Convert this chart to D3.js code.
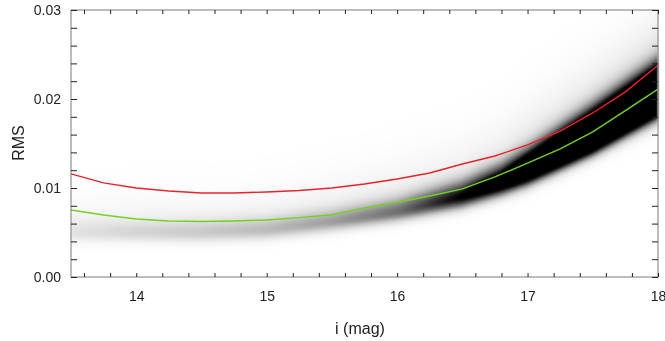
<!DOCTYPE html>
<html>
<head>
<meta charset="utf-8">
<script src="https://cdn.jsdelivr.net/npm/d3@7"></script>
<style>
  body { margin: 0; background: #fff; }
  #wrap { position: relative; width: 665px; height: 341px; }
  #wrap canvas { position: absolute; filter: blur(1px); }
  #wrap svg { position: absolute; left: 0; top: 0; }
</style>
</head>
<body>
<div id="wrap"></div>
<script>
// curve nodes (i mag vs RMS)
const mags = [13.5, 13.75, 14.0, 14.25, 14.5, 14.75, 15.0, 15.25, 15.5, 15.75,
              16.0, 16.25, 16.5, 16.75, 17.0, 17.25, 17.5, 17.75, 18.0];
const redRms = [0.01158, 0.01057, 0.0100, 0.00967, 0.00944, 0.00944, 0.00955, 0.00972, 0.0100, 0.01045,
                0.01101, 0.01169, 0.0127, 0.0136, 0.01484, 0.0164, 0.01843, 0.0208, 0.0238];
const greenRms = [0.00753, 0.00697, 0.00652, 0.00629, 0.00624, 0.00629, 0.00641, 0.00667, 0.00700, 0.00776,
                  0.0084, 0.0091, 0.0099, 0.01124, 0.0128, 0.0144, 0.0163, 0.0187, 0.0211];

// density ridge
const densMag  = [13.5, 14.0, 14.5, 15.0, 15.5, 16.0, 16.5, 16.8, 17.0, 17.5, 18.0];
const densMode = [0.0050, 0.0050, 0.0050, 0.0053, 0.0062, 0.0073, 0.0090, 0.0106, 0.0120, 0.0158, 0.0205];
const densLow  = [0.0008, 0.0008, 0.0008, 0.0008, 0.0008, 0.0008, 0.0009, 0.0010, 0.0011, 0.0012, 0.0015];
const densHigh = [0.0011, 0.0011, 0.0011, 0.0011, 0.0011, 0.0012, 0.0013, 0.0014, 0.0015, 0.0019, 0.0020];
const densPeak = [0.12, 0.18, 0.22, 0.27, 0.36, 0.5, 0.85, 1.15, 1.6, 2.6, 3.2];
const haloPeak = [0.08, 0.09, 0.10, 0.11, 0.12, 0.14, 0.17, 0.2, 0.23, 0.28, 0.33];
const haloWidth = [0.003, 0.003, 0.003, 0.0032, 0.0035, 0.0038, 0.004, 0.0042, 0.0045, 0.005, 0.0052];

const xTicks = d3.range(13.6, 18.001, 0.2).map(v => +v.toFixed(1));
const yTicks = d3.range(0, 0.03001, 0.002).map(v => +v.toFixed(3));
const xLabels = [14, 15, 16, 17, 18];
const yLabels = [0, 0.01, 0.02, 0.03];

const W = 665, H = 341;
const m = { left: 71, top: 10, right: 7, bottom: 64 };
const pw = W - m.left - m.right, ph = H - m.top - m.bottom;

const x = d3.scaleLinear().domain([13.5, 18]).range([0, pw]);
const y = d3.scaleLinear().domain([0, 0.03]).range([ph, 0]);

const wrap = d3.select('#wrap');

// density map on a canvas
const canvas = wrap.append('canvas')
  .attr('width', pw).attr('height', ph)
  .style('left', m.left + 'px').style('top', m.top + 'px')
  .node();
const ctx = canvas.getContext('2d');
const img = ctx.createImageData(pw, ph);
const s = arr => d3.scaleLinear().domain(densMag).range(arr).clamp(true);
const fMode = s(densMode), fLow = s(densLow), fHigh = s(densHigh), fPeak = s(densPeak);
const fHalo = s(haloPeak), fHaloW = s(haloWidth);
const grey = d3.scaleSequential(d3.interpolateGreys).domain([0, 1]).clamp(true);

for (let px = 0; px < pw; px++) {
  const mg = x.invert(px + 0.5);
  const mo = fMode(mg), lo = fLow(mg), hi = fHigh(mg), pk = fPeak(mg);
  const hp = fHalo(mg), hw = fHaloW(mg);
  for (let py = 0; py < ph; py++) {
    const r = y.invert(py + 0.5);
    const dz = r - mo;
    const sg = dz < 0 ? lo : hi;
    let d = pk * Math.exp(-0.5 * (dz / sg) ** 2);
    if (dz > 0) d += hp * Math.exp(-0.5 * (dz / hw) ** 2);
    else d += hp * Math.exp(-0.5 * (dz / lo) ** 2);
    const c = d3.rgb(grey(d));
    const i = (py * pw + px) * 4;
    img.data[i] = c.r; img.data[i + 1] = c.g; img.data[i + 2] = c.b; img.data[i + 3] = 255;
  }
}
ctx.putImageData(img, 0, 0);

const svg = wrap.append('svg').attr('width', W).attr('height', H);
const g = svg.append('g').attr('transform', `translate(${m.left},${m.top})`);

// curves
const line = arr => d3.line().x((d, i) => x(mags[i])).y(d => y(d))(arr);
g.append('path').attr('d', line(greenRms))
  .attr('fill', 'none').attr('stroke', '#74d023').attr('stroke-width', 1.4);
g.append('path').attr('d', line(redRms))
  .attr('fill', 'none').attr('stroke', '#e8232b').attr('stroke-width', 1.4);

// frame
g.append('rect').attr('width', pw).attr('height', ph)
  .attr('fill', 'none').attr('stroke', '#7a7a7a').attr('stroke-width', 1);

const tickStyle = sel => {
  sel.select('.domain').remove();
  sel.selectAll('.tick line').attr('stroke', '#222');
  sel.selectAll('.tick text').attr('fill', '#222')
    .style('font-family', 'Liberation Sans, Arial, sans-serif').style('font-size', '14px');
};

g.append('g').attr('transform', `translate(0,${ph})`)
  .call(d3.axisBottom(x).tickValues(xTicks).tickSize(-4).tickPadding(14)
    .tickFormat(d => xLabels.includes(d) ? d3.format('d')(d) : ''))
  .call(tickStyle);
g.append('g')
  .call(d3.axisTop(x).tickValues(xTicks).tickSize(-4).tickFormat(''))
  .call(tickStyle);
g.append('g')
  .call(d3.axisLeft(y).tickValues(yTicks).tickSize(-6).tickPadding(10)
    .tickFormat(d => yLabels.includes(d) ? d3.format('.2f')(d) : ''))
  .call(tickStyle);
g.append('g').attr('transform', `translate(${pw},0)`)
  .call(d3.axisRight(y).tickValues(yTicks).tickSize(-6).tickFormat(''))
  .call(tickStyle);

// axis titles
svg.append('text').attr('x', 360).attr('y', 334).attr('text-anchor', 'middle')
  .attr('fill', '#222').style('font-family', 'Liberation Sans, Arial, sans-serif').style('font-size', '16px')
  .text('i (mag)');
svg.append('text').attr('transform', 'translate(24,143) rotate(-90)').attr('text-anchor', 'middle')
  .attr('fill', '#222').style('font-family', 'Liberation Sans, Arial, sans-serif').style('font-size', '16px')
  .text('RMS');
</script>
</body>
</html>
